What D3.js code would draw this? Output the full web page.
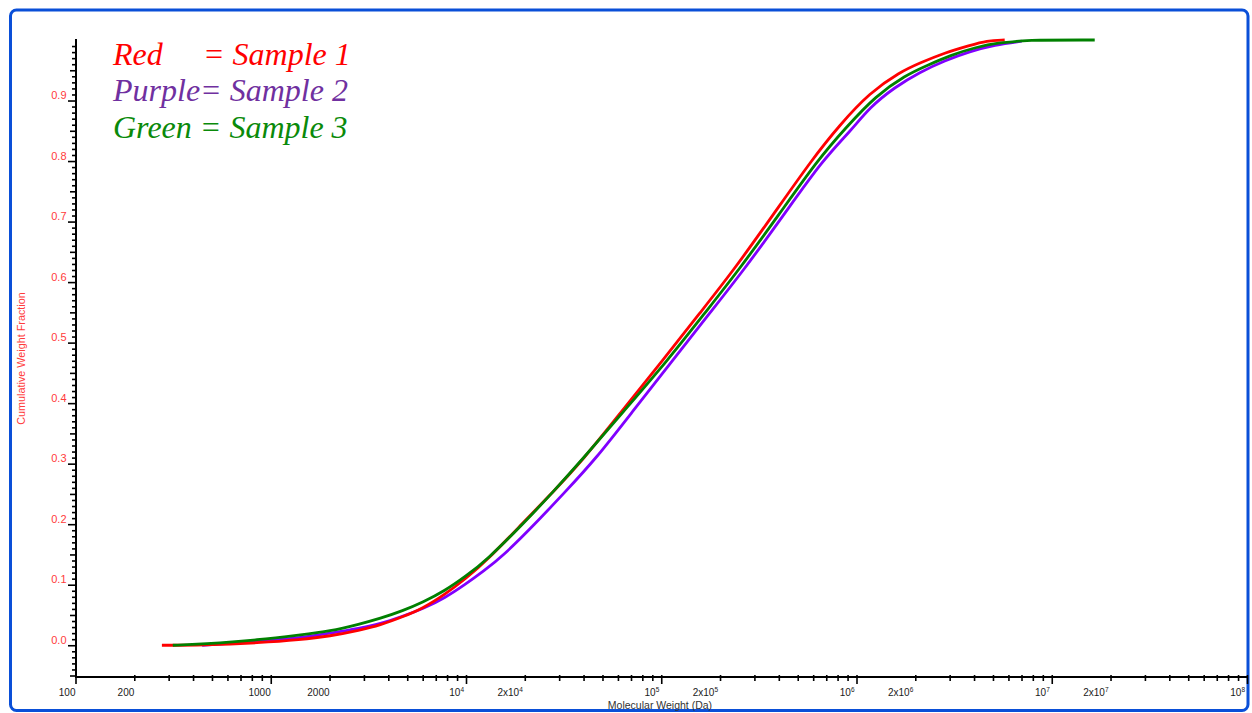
<!DOCTYPE html>
<html>
<head>
<meta charset="utf-8">
<script src="https://cdn.jsdelivr.net/npm/d3@7/dist/d3.min.js"></script>
<style>
  html, body { margin: 0; padding: 0; background: #ffffff; }
  svg { display: block; }
</style>
</head>
<body>
<svg id="chart" width="1252" height="713"></svg>
<script>
// ---------------- data ----------------
const seriesNames = ["Sample 1", "Sample 2", "Sample 3"];

const sample1MW   = [277, 445, 881, 1413, 2010, 2864, 3622, 4750, 6013, 7796, 9975, 12790, 19560, 27860, 39700, 63590, 101900, 157700, 235400, 377500, 590000, 822000, 1170000, 1667000, 2110000, 2833000, 3802000, 4645000, 5741000];
const sample1Frac = [0.0, 0.0, 0.004, 0.009, 0.015, 0.025, 0.033, 0.047, 0.061, 0.084, 0.110, 0.140, 0.202, 0.253, 0.306, 0.389, 0.471, 0.549, 0.620, 0.713, 0.802, 0.860, 0.913, 0.947, 0.962, 0.979, 0.991, 0.999, 1.0];

const sample2MW   = [445, 881, 1413, 2010, 2864, 3622, 4750, 6013, 7796, 9975, 12360, 15280, 22530, 32090, 45700, 72400, 114600, 177300, 264800, 424300, 672000, 935000, 1170000, 1571000, 2110000, 2833000, 3802000, 5105000, 7020000];
const sample2Frac = [0.0, 0.007, 0.012, 0.020, 0.028, 0.035, 0.048, 0.060, 0.078, 0.101, 0.123, 0.146, 0.200, 0.253, 0.306, 0.389, 0.471, 0.549, 0.620, 0.711, 0.802, 0.850, 0.889, 0.922, 0.947, 0.966, 0.981, 0.992, 0.998];

const sample3MW   = [315, 445, 881, 1413, 2010, 2864, 3622, 4750, 6013, 7796, 9975, 12790, 19560, 27860, 39200, 65150, 108100, 167200, 249500, 399700, 633500, 881300, 1256000, 1789000, 2265000, 3040000, 4080000, 5420000, 6620000, 6860000, 16600000];
const sample3Frac = [0.0, 0.002, 0.009, 0.017, 0.023, 0.035, 0.044, 0.057, 0.071, 0.090, 0.114, 0.141, 0.200, 0.253, 0.306, 0.389, 0.471, 0.549, 0.620, 0.711, 0.802, 0.855, 0.908, 0.942, 0.957, 0.975, 0.988, 0.996, 0.997, 1.0, 1.0];

const xTickValues = [100, 200, 1000, 2000, 1e4, 2e4, 1e5, 2e5, 1e6, 2e6, 1e7, 2e7, 1e8];
const xTickLabels = ["100", "200", "1000", "2000", "10^4", "2x10^4", "10^5", "2x10^5", "10^6", "2x10^6", "10^7", "2x10^7", "10^8"];
const yTickValues = [0.0, 0.1, 0.2, 0.3, 0.4, 0.5, 0.6, 0.7, 0.8, 0.9];
const yTickLabels = ["0.0", "0.1", "0.2", "0.3", "0.4", "0.5", "0.6", "0.7", "0.8", "0.9"];

const legendColors = ["Red", "Purple", "Green"];

// ---------------- layout ----------------
const svg = d3.select("#chart");
const xLeft = 75.5, xRight = 1247;
const yTop = 40, yBottom = 675.5, xAxisY = 677;

const x = d3.scaleLog().domain([100, 1e8]).range([xLeft, xRight]);
const y = d3.scaleLinear().domain([-0.05, 1.0]).range([yBottom, yTop]);

// frame
svg.append("rect")
  .attr("x", 10.5).attr("y", 10).attr("width", 1237.5).attr("height", 700.5)
  .attr("rx", 6).attr("ry", 6)
  .attr("fill", "none").attr("stroke", "#0a4fd8").attr("stroke-width", 3);

// ---------------- curves ----------------
const curveColors = ["#ff0000", "#8000ff", "#008000"];
const series = [
  { name: seriesNames[0], color: curveColors[0], pts: sample1MW.map((m, i) => [m, sample1Frac[i]]) },
  { name: seriesNames[1], color: curveColors[1], pts: sample2MW.map((m, i) => [m, sample2Frac[i]]) },
  { name: seriesNames[2], color: curveColors[2], pts: sample3MW.map((m, i) => [m, sample3Frac[i]]) }
];
const line = d3.line().x(d => x(d[0])).y(d => y(d[1])).curve(d3.curveBasis);
const drawOrder = [1, 0, 2];
drawOrder.forEach(i => {
  svg.append("path")
    .attr("d", line(series[i].pts))
    .attr("fill", "none")
    .attr("stroke", series[i].color)
    .attr("stroke-width", 2.8)
    .attr("stroke-linejoin", "round");
});

// ---------------- y axis ----------------
const yMinor = d3.range(-5, 101).map(k => k / 100);
const mkY = (vals, size) => {
  const g = svg.append("g").attr("transform", `translate(${xLeft + 0.5},0)`);
  g.call(d3.axisLeft(y).tickValues(vals).tickSize(size).tickFormat(""));
  g.selectAll(".domain").remove();
  g.selectAll(".tick line").attr("stroke", "#000").attr("stroke-width", 1.6);
  return g;
};
mkY(yMinor.filter(v => Math.round(v * 100) % 5 !== 0), 4);
mkY(yMinor.filter(v => Math.round(v * 100) % 5 === 0 && Math.round(v * 100) % 10 !== 0), 6);
mkY(yTickValues, 8);
svg.append("line").attr("x1", xLeft + 0.5).attr("x2", xLeft + 0.5).attr("y1", yTop - 1).attr("y2", xAxisY + 1)
  .attr("stroke", "#000").attr("stroke-width", 2);

svg.append("g").selectAll("text").data(yTickValues).join("text")
  .attr("x", 66.5).attr("y", d => y(d) - 1.5)
  .attr("text-anchor", "end")
  .attr("font-family", "Liberation Sans, Arial, sans-serif")
  .attr("font-size", 11)
  .attr("fill", "#ff3b3b")
  .text((d, i) => yTickLabels[i]);

svg.append("text")
  .attr("transform", `translate(24.5,358.5) rotate(-90)`)
  .attr("text-anchor", "middle")
  .attr("font-family", "Liberation Sans, Arial, sans-serif")
  .attr("font-size", 10.8)
  .attr("fill", "#ff3b3b")
  .text("Cumulative Weight Fraction");

// ---------------- x axis ----------------
const xMinor = [];
for (let e = 2; e < 8; e++) for (let m = 2; m <= 9; m++) xMinor.push(m * Math.pow(10, e));
const xDecades = [1e2, 1e3, 1e4, 1e5, 1e6, 1e7, 1e8];
const mkX = (vals, size) => {
  const g = svg.append("g").attr("transform", `translate(0,${xAxisY})`);
  g.call(d3.axisBottom(x).tickValues(vals).tickSize(size).tickFormat(""));
  g.selectAll(".domain").remove();
  g.selectAll(".tick line").attr("stroke", "#000").attr("stroke-width", 1.6).attr("y1", -2);
  return g;
};
mkX(xMinor, 4);
mkX(xDecades, 7);
svg.append("line").attr("x1", xLeft - 0.5).attr("x2", xRight).attr("y1", xAxisY).attr("y2", xAxisY)
  .attr("stroke", "#000").attr("stroke-width", 2);

const xl = svg.append("g").selectAll("text").data(xTickValues).join("text")
  .attr("x", d => x(d) - (d >= 1e4 ? 2 : 0))
  .attr("y", 696)
  .attr("text-anchor", "end")
  .attr("font-family", "Liberation Sans, Arial, sans-serif")
  .attr("font-size", 10)
  .attr("fill", "#1a1a1a");
xl.each(function (d, i) {
  const t = d3.select(this);
  const parts = xTickLabels[i].split("^");
  t.append("tspan").text(parts[0]);
  if (parts.length > 1) {
    t.append("tspan").attr("dy", -4.5).attr("font-size", 6.5).text(parts[1]);
  }
});

svg.append("text")
  .attr("x", 660).attr("y", 708.5)
  .attr("text-anchor", "middle")
  .attr("font-family", "Liberation Sans, Arial, sans-serif")
  .attr("font-size", 10.5)
  .attr("fill", "#333")
  .text("Molecular Weight (Da)");

// ---------------- legend ----------------
const legendTextColors = ["#ff0000", "#7030a0", "#0a8a0a"];
const legendBase = [64.5, 101, 137.5];
const lg = svg.append("g")
  .attr("font-family", "Liberation Serif, 'Times New Roman', serif")
  .attr("font-style", "italic")
  .attr("font-size", 32);
lg.append("text").attr("x", 113).attr("y", legendBase[0]).attr("fill", legendTextColors[0])
  .call(t => {
    t.append("tspan").text(legendColors[0]);
    t.append("tspan").attr("x", 203).text("= " + seriesNames[0]);
  });
lg.append("text").attr("x", 113).attr("y", legendBase[1]).attr("fill", legendTextColors[1])
  .text(legendColors[1] + "= " + seriesNames[1]);
lg.append("text").attr("x", 113).attr("y", legendBase[2]).attr("fill", legendTextColors[2])
  .text(legendColors[2] + " = " + seriesNames[2]);
</script>
</body>
</html>
